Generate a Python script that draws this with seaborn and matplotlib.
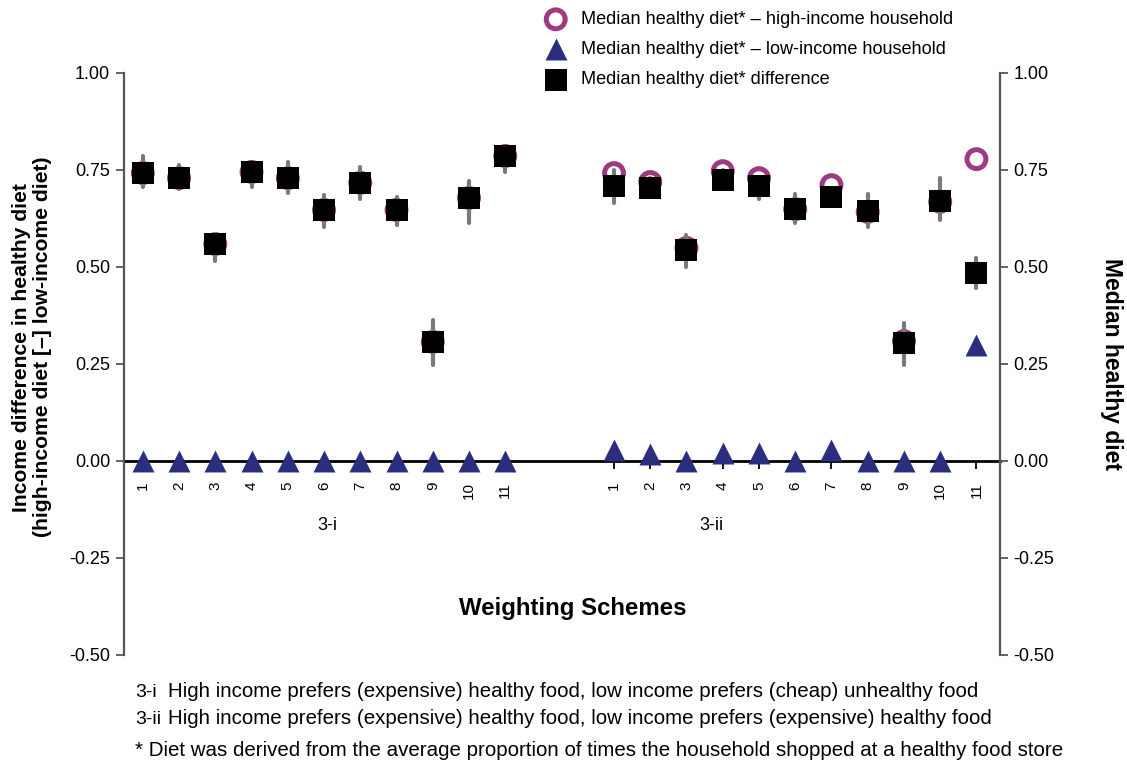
import numpy as np
import pandas as pd
import matplotlib
matplotlib.use("Agg")
import matplotlib.pyplot as plt
import seaborn as sns

sns.set_theme(style="white")
plt.rcParams["font.family"] = ["Liberation Sans", "DejaVu Sans"]
plt.rcParams["text.color"] = "black"
plt.rcParams["axes.labelcolor"] = "black"

# Weighting schemes 1-11 for each preference scenario
schemes = [str(i) for i in range(1, 12)]
scenarios = ["3-i", "3-ii"]

# Median healthy diet, high-income household
high_3i = [0.742, 0.729, 0.559, 0.745, 0.729, 0.647, 0.717, 0.647, 0.307, 0.678, 0.786]
high_3ii = [0.742, 0.719, 0.549, 0.747, 0.729, 0.649, 0.711, 0.642, 0.309, 0.668, 0.778]

# Median healthy diet, low-income household
low_3i = [0.0, 0.0, 0.0, 0.0, 0.0, 0.0, 0.0, 0.0, 0.0, 0.0, 0.0]
low_3ii = [0.028, 0.018, 0.0, 0.020, 0.020, 0.0, 0.028, 0.0, 0.0, 0.0, 0.299]

# Median difference (high - low) with its spread
diff_3i = [0.742, 0.729, 0.559, 0.745, 0.729, 0.647, 0.717, 0.647, 0.307, 0.678, 0.786]
diff_3ii = [0.709, 0.704, 0.544, 0.724, 0.709, 0.649, 0.680, 0.644, 0.304, 0.670, 0.484]
diff_lo_3i = [0.706, 0.700, 0.515, 0.706, 0.690, 0.603, 0.675, 0.608, 0.247, 0.613, 0.745]
diff_hi_3i = [0.786, 0.763, 0.570, 0.762, 0.771, 0.686, 0.758, 0.680, 0.363, 0.722, 0.800]
diff_lo_3ii = [0.665, 0.690, 0.500, 0.705, 0.675, 0.614, 0.680, 0.603, 0.247, 0.621, 0.446]
diff_hi_3ii = [0.750, 0.730, 0.582, 0.750, 0.730, 0.688, 0.680, 0.688, 0.355, 0.729, 0.523]

legend_labels = [
    "Median healthy diet* \u2013 high-income household",
    "Median healthy diet* \u2013 low-income household",
    "Median healthy diet* difference",
]

# Build a long table; the two scenarios sit side by side with a gap
gap = 3
rows = []
for s_idx, (sc, hi, lo, df_, dlo, dhi) in enumerate([
    ("3-i", high_3i, low_3i, diff_3i, diff_lo_3i, diff_hi_3i),
    ("3-ii", high_3ii, low_3ii, diff_3ii, diff_lo_3ii, diff_hi_3ii),
]):
    for k, lab in enumerate(schemes):
        rows.append(dict(scenario=sc, scheme=lab,
                         pos=s_idx * (len(schemes) - 1 + gap) + k,
                         high=hi[k], low=lo[k], diff=df_[k],
                         dlo=dlo[k], dhi=dhi[k]))
data = pd.DataFrame(rows)

fig = plt.figure(figsize=(11.27, 7.65), dpi=100)
ax = fig.add_axes([0.110, 0.1438, 0.777, 0.7608])

magenta = "#A03A80"
navy = "#2B2E7E"
grey = "#7A7A7A"

# High-income medians: open rings
sns.scatterplot(data=data, x="pos", y="high", ax=ax, marker="o", s=185,
                facecolor="none", edgecolor=magenta, linewidth=3.6,
                zorder=3, label=legend_labels[0])
# Spread of the difference
ax.vlines(data["pos"], data["dlo"], data["dhi"], color=grey, lw=3.0,
          zorder=4, capstyle="round")
# Low-income medians: triangles
sns.scatterplot(data=data, x="pos", y="low", ax=ax, marker="^", s=250,
                color=navy, linewidth=0, zorder=5, label=legend_labels[1])
# Median difference: squares
sns.scatterplot(data=data, x="pos", y="diff", ax=ax, marker="s", s=235,
                color="black", linewidth=0, zorder=6, label=legend_labels[2])

ax.set_xlim(-0.52, 23.64)
ax.set_ylim(-0.5, 1.0)
yt = [-0.5, -0.25, 0.0, 0.25, 0.5, 0.75, 1.0]
ax.set_yticks(yt)
ax.set_yticklabels([f"{v:.2f}" for v in yt], fontsize=13)
ax.set_xticks(data["pos"])
ax.set_xticklabels(data["scheme"], fontsize=10.5)

for side in ["top", "right"]:
    ax.spines[side].set_visible(False)
ax.spines["left"].set_color("#555555")
ax.spines["left"].set_linewidth(1.6)
ax.spines["bottom"].set_position(("data", 0))
ax.spines["bottom"].set_color("black")
ax.spines["bottom"].set_linewidth(2.0)
ax.spines["bottom"].set_zorder(2)
ax.tick_params(axis="y", left=True, length=6, width=1.3, color="#555555",
               pad=4, labelcolor="black")
ax.tick_params(axis="x", bottom=True, length=6, width=1.3, color="black",
               pad=9, labelcolor="black", labelrotation=90)

ax.set_xlabel("")
ax.set_ylabel("Income difference in healthy diet\n(high-income diet [\u2013] low-income diet)",
              fontsize=15.2, fontweight="bold", linespacing=1.15)
ax.yaxis.set_label_coords(-0.082, 0.529)

# Scenario names under each block of schemes
for sc, cx in zip(scenarios, [5.08, 15.7]):
    ax.text(cx, -0.165, sc, ha="center", va="center", fontsize=13)
ax.text(0.512, (0.5 - 0.379) / 1.5, "Weighting Schemes", transform=ax.transAxes,
        ha="center", va="center", fontsize=17.3, fontweight="bold")

# Right axis on the same scale
ax2 = ax.twinx()
ax2.set_ylim(ax.get_ylim())
ax2.set_yticks(yt)
ax2.set_yticklabels([f"{v:.2f}" for v in yt], fontsize=13)
for side in ["top", "left", "bottom"]:
    ax2.spines[side].set_visible(False)
ax2.spines["right"].set_color("#555555")
ax2.spines["right"].set_linewidth(1.6)
ax2.tick_params(axis="y", right=True, length=6, width=1.3, color="#555555",
                pad=4, labelcolor="black")
ax2.set_ylabel("Median healthy diet", fontsize=16.5, fontweight="bold",
               rotation=270, va="center", ha="center")
ax2.yaxis.set_label_coords(1.128, 0.5)

# Legend above the plot area
handles, labels = ax.get_legend_handles_labels()
ax.get_legend().remove()
fig.legend(handles, labels, loc="upper left", bbox_to_anchor=(0.4705, 0.995),
           frameon=False, fontsize=13.1, handletextpad=0.38, labelspacing=0.72,
           borderaxespad=0, markerscale=1.0, labelcolor="black")

# Scenario definitions and footnote, aligned on a common baseline per line
fs_note = 14.8
note_rows = [
    (697, "3-i", "High income prefers (expensive) healthy food, low income prefers (cheap) unhealthy food"),
    (724, "3-ii", "High income prefers (expensive) healthy food, low income prefers (expensive) healthy food"),
]
for ypx, tag, text in note_rows:
    fig.text(0.120, 1 - ypx / 765, tag, fontsize=14, va="baseline")
    fig.text(168 / 1127, 1 - ypx / 765, text, fontsize=fs_note, va="baseline")
fig.text(0.120, 1 - 756 / 765,
         "* Diet was derived from the average proportion of times the household shopped at a healthy food store",
         fontsize=fs_note, va="baseline")

fig.savefig("out.png", dpi=100)
